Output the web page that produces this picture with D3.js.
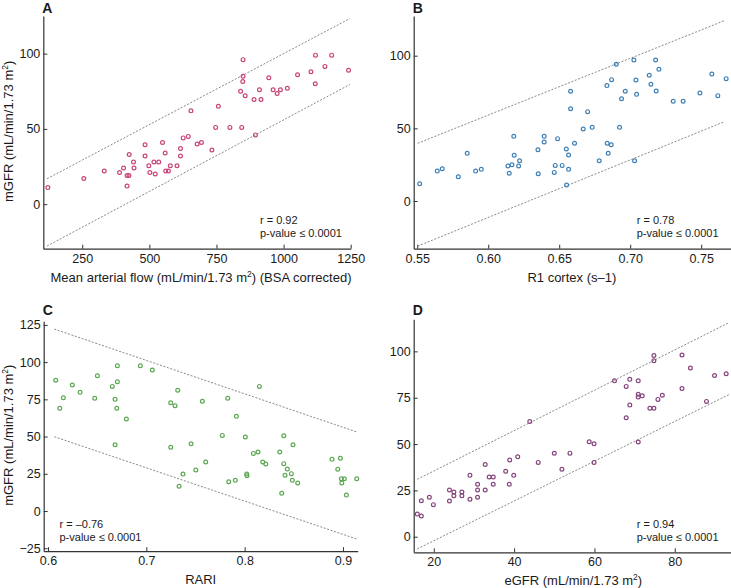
<!DOCTYPE html>
<html><head><meta charset="utf-8">
<script src="https://cdn.jsdelivr.net/npm/d3@7"></script>
<style>
body{margin:0;background:#fff;}
text{font-family:"Liberation Sans",Arial,Helvetica,sans-serif;fill:#1a1a1a;}
</style></head><body>
<svg id="c" width="731" height="588"></svg>
<script>
// ---------- DATA ----------
const flowA = [122,256,332,389,404,417,424,417,425,441,443,484,484,498,502,522,517,535,549,559,561,571,578,603,616,616,626,645,678,694,733,655,757,747,800,844,895,849,849,848,840,857,890,916,910,945,961,976,988,1014,1052,1102,1119,1118,1154,1179,1242];
const mgfrA = [11,17,22,21,24,19,19,12,33,28,24,39.5,32,25.5,21,20,28,28,41,34,22,22,25.5,25.5,37,32,44,45,40,41,36,62,65,51,51,51,46,96,85,81.5,75,72,69.5,69.5,76,84,76,73.5,76,77,86,88,99,80,91.5,99,89];

const r1B = [0.5517,0.5641,0.5676,0.5789,0.5852,0.5911,0.5951,0.6139,0.6167,0.6148,0.6183,0.6214,0.6221,0.6352,0.6465,0.6472,0.6521,0.6566,0.6566,0.6552,0.6782,0.6845,0.7031,
  0.618,0.6394,0.6394,0.6489,0.635,0.655,0.6608,0.658,0.658,0.670,0.6669,0.6732,0.6838,0.6866,0.6925,0.6836,0.6869,0.6902,0.6939,0.6965,0.7026,0.704,0.7045,0.7134,0.7146,0.7179,0.7202,0.7183,0.7303,0.7373,0.7491,0.7575,0.7617,0.7676];
const mgfrB = [11.9,20.6,22.2,16.7,32.8,20.6,21.8,24.1,25,19.1,31.5,24.1,27.7,18.8,19.7,24.5,24.5,31.7,21.8,11,27.7,32.8,27.7,
  44.5,44.5,40.6,42.9,35.3,35.8,39.7,75.5,63.5,61.5,49.6,50.7,39.7,38.7,50.7,79.4,83.5,94.1,70.4,75.5,97,83.3,73.4,86.5,80.3,97,90.6,75.7,68.6,68.6,74.3,87.4,72.5,84.2];

const rariC = [0.6078,0.6119,0.6156,0.6247,0.6326,0.6475,0.6502,0.6654,0.6682,0.6699,0.6705,0.6705,0.6797,0.6939,0.7061,0.7248,0.7292,0.7319,0.757,0.7828,0.7916,0.815,
  0.6682,0.7248,0.7455,0.7373,0.7333,0.7503,0.7604,0.7773,0.7838,0.7905,0.8007,0.8021,0.8024,0.8089,0.8136,0.8184,0.8215,0.8357,0.8398,0.8492,0.8398,0.8434,0.8411,0.8475,0.8485,0.854,0.8377,0.8889,0.8974,0.8947,0.8984,0.9014,0.8988,0.9035,0.914];
const mgfrC = [87.8,69,76.1,84.6,79.7,75.7,90.9,83.7,75,69,97.6,86.8,61.8,97.6,94.7,72.7,70.7,81.1,73.7,75.7,63.6,83.7,
  44.5,42.8,45.2,24.8,16.6,27.5,32.9,50.8,19.7,20.6,49.7,24.8,23.7,38.7,39.6,32.9,31.6,39.6,50.6,44.5,31.8,28.2,24,25.1,20.6,18.8,11.9,34.7,35.4,28,21.7,21.7,18.8,10.7,21.7];

const egfrD = [43.9,65,67.9,68.8,70.9,68.8,67.9,70.9,71.9,70.9,73.8,74.8,75.8,76.9,74.8,74.8,81.8,83.9,81.8,87.9,89.9,92.8,
  15.9,16.9,16.9,18.9,19.9,23.9,23.9,25,25,27,27,29,29,30.9,30.9,30.9,32.8,32.8,33.8,34.8,34.8,37.9,38.9,38.8,39.9,40.9,46,50,51.9,53.9,58.7,59.9,59.9,70.9];
const mgfrD = [62.2,84.1,81.1,84.9,84.1,71,64.2,75.4,76,76.8,69.3,69.3,74.1,76.3,97.8,94.9,98,91,80,73,87,87.9,
  12.2,11.2,19.4,21.3,17.3,25.2,19.3,24.1,22.1,24.1,22.1,33.1,20.2,28.3,25.2,21.3,39,25.2,32.2,32.2,28.3,35.3,41.4,28.3,33.1,43.1,40.1,45,36.4,45.1,51.2,50.2,40.1,51.1];

// limit lines: [x0, x1], upper [y0, y1], lower [y0, y1]
const limitXA = [119, 1247], upperA = [16.9, 123.3], lowerA = [-27.8, 79.5];
const limitXB = [0.5503, 0.7664], upperB = [39.7, 124.1], lowerB = [-31, 54.6];
const limitXC = [0.6064, 0.914], upperC = [122.2, 53.1], lowerC = [49.9, -18.8];
const limitXD = [15.9, 93.6], upperD = [31, 115.6], lowerD = [-6.6, 76.8];

const xTicksA = [250,500,750,1000,1250], yTicksA = [0,50,100];
const xTicksB = [0.55,0.60,0.65,0.70,0.75], yTicksB = [0,50,100];
const xTicksC = [0.6,0.7,0.8,0.9], yTicksC = [-25,0,25,50,75,100,125];
const xTicksD = [20,40,60,80], yTicksD = [0,25,50,75,100];

const statsA = ["r = 0.92","p-value \u2264 0.0001"];
const statsB = ["r = 0.78","p-value \u2264 0.0001"];
const statsC = ["r = \u20130.76","p-value \u2264 0.0001"];
const statsD = ["r = 0.94","p-value \u2264 0.0001"];

// ---------- DRAW ----------
const svg = d3.select("#c");

function panel(o){
  const x = d3.scaleLinear().domain(o.xd).range(o.xr);
  const y = d3.scaleLinear().domain(o.yd).range(o.yr);
  const g = svg.append("g");
  const ax = g.append("g").attr("transform",`translate(0,${o.yr[0]})`)
    .call(d3.axisBottom(x).tickValues(o.xt).tickFormat(o.xf).tickSizeInner(-4).tickSizeOuter(0).tickPadding(5));
  const ay = g.append("g").attr("transform",`translate(${o.xr[0]},0)`)
    .call(d3.axisLeft(y).tickValues(o.yt).tickFormat(d3.format("")).tickSizeInner(-4).tickSizeOuter(0).tickPadding(3));
  [ax,ay].forEach(a=>{
    a.select(".domain").attr("stroke","#333").attr("stroke-width",1.2);
    a.selectAll(".tick line").attr("stroke","#333").attr("stroke-width",1);
    a.selectAll("text").attr("font-size",12.5).attr("fill","#1a1a1a").style("font-family",'"Liberation Sans",Arial,sans-serif');
  });
  const line = d3.line().x(d=>x(d[0])).y(d=>y(d[1]));
  [o.up,o.lo].forEach(l=>{
    g.append("path").datum([[o.lx[0],l[0]],[o.lx[1],l[1]]]).attr("d",line)
      .attr("fill","none").attr("stroke","#7a7a7a").attr("stroke-width",0.9).attr("stroke-dasharray","2,1.6");
  });
  g.append("g").selectAll("circle").data(o.xs.map((v,i)=>[v,o.ys[i]])).join("circle")
    .attr("cx",d=>x(d[0])).attr("cy",d=>y(d[1])).attr("r",1.9)
    .attr("fill","none").attr("stroke",o.col).attr("stroke-width",1.2);
  g.append("text").attr("x",o.xr[0]-1).attr("y",o.ly).text(o.letter)
    .attr("font-size",14).attr("font-weight","bold");
  const st = g.append("text").attr("font-size",11);
  o.stats.forEach((s,i)=>st.append("tspan").attr("x",o.sx).attr("y",o.sy+i*13.3).text(s));
  const xl = g.append("text").attr("x",(o.xr[0]+o.xr[1])/2+o.xlOff).attr("y",o.yr[0]+33).attr("text-anchor","middle").attr("font-size",13);
  o.xlab.forEach(p=>{
    if(p.sup) xl.append("tspan").attr("dy",-5).attr("font-size",8.5).text(p.t);
    else xl.append("tspan").attr("dy",p.after?5:0).text(p.t);
  });
  if(o.ylab){
    const yl = g.append("text").attr("transform",`translate(12.5,${(o.yr[0]+o.yr[1])/2-1})rotate(-90)`).attr("text-anchor","middle").attr("font-size",13);
    yl.append("tspan").text("mGFR (mL/min/1.73 m");
    yl.append("tspan").attr("dy",-5).attr("font-size",8.5).text("2");
    yl.append("tspan").attr("dy",5).text(")");
  }
}

const unitLab = (pre, post) => [{t:pre},{t:"2",sup:true},{t:post,after:true}];

panel({letter:"A", ly:13, xd:[105,1250], xr:[43.3,350.7], yd:[-29.6,125], yr:[248.7,16],
  xt:xTicksA, yt:yTicksA, xf:d3.format(""), xs:flowA, ys:mgfrA, col:"#c8447a",
  lx:limitXA, up:upperA, lo:lowerA, stats:statsA, sx:260, sy:224,
  xlab:unitLab("Mean arterial flow (mL/min/1.73 m",") (BSA corrected)"), xlOff:4, ylab:true});
panel({letter:"B", ly:13, xd:[0.5475,0.771], xr:[413.7,731], yd:[-32.8,127.3], yr:[248.7,16],
  xt:xTicksB, yt:yTicksB, xf:d3.format(".2f"), xs:r1B, ys:mgfrB, col:"#3f80b6",
  lx:limitXB, up:upperB, lo:lowerB, stats:statsB, sx:636.7, sy:224,
  xlab:[{t:"R1 cortex (s\u20131)"}], xlOff:-0.5, ylab:false});
panel({letter:"C", ly:315, xd:[0.5956,0.915], xr:[43.7,357.7], yd:[-27,127.5], yr:[551.2,321.2],
  xt:xTicksC, yt:yTicksC, xf:d3.format(".1f"), xs:rariC, ys:mgfrC, col:"#5ba851",
  lx:limitXC, up:upperC, lo:lowerC, stats:statsC, sx:59.5, sy:528,
  xlab:[{t:"RARI"}], xlOff:0, ylab:true});
panel({letter:"D", ly:315, xd:[15,94], xr:[413.7,731], yd:[-8.4,117.3], yr:[552.3,319.3],
  xt:xTicksD, yt:yTicksD, xf:d3.format(""), xs:egfrD, ys:mgfrD, col:"#85457c",
  lx:limitXD, up:upperD, lo:lowerD, stats:statsD, sx:636.7, sy:528,
  xlab:unitLab("eGFR (mL/min/1.73 m",")"), xlOff:1, ylab:false});
</script>
</body></html>
